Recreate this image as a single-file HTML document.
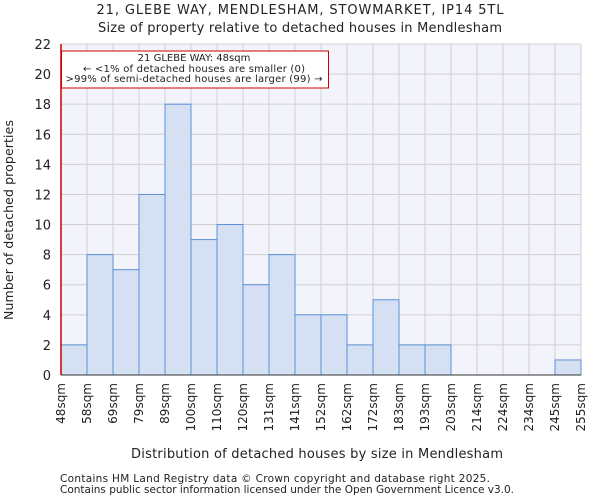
<!DOCTYPE html>
<html><head><meta charset="utf-8"><style>
body{margin:0;background:#fff;font-family:"DejaVu Sans","Liberation Sans",sans-serif}
svg text{font-family:"DejaVu Sans","Liberation Sans",sans-serif;fill:#222}
</style></head><body>
<svg id="c" width="600" height="500" xmlns="http://www.w3.org/2000/svg">
<text x="300" y="14" font-size="13" text-anchor="middle" textLength="407">21, GLEBE WAY, MENDLESHAM, STOWMARKET, IP14 5TL</text>
<text x="300" y="32" font-size="13" text-anchor="middle" textLength="404">Size of property relative to detached houses in Mendlesham</text>
<rect x="61" y="44" width="520" height="331" fill="#f3f4fb"/>
<g id="grid"></g><g id="bars"></g><g id="axes"></g>
<line x1="61" y1="44" x2="61" y2="375" stroke="#c00" stroke-width="1.5"/>
<rect x="61.5" y="51" width="267" height="37" fill="#fff" stroke="#c00"/>
<text x="194" y="61" font-size="10" text-anchor="middle">21 GLEBE WAY: 48sqm</text>
<text x="194" y="72" font-size="10" text-anchor="middle" textLength="222">← &lt;1% of detached houses are smaller (0)</text>
<text x="194" y="82" font-size="10" text-anchor="middle" textLength="257">&gt;99% of semi-detached houses are larger (99) →</text>
<text x="317" y="458" font-size="13" text-anchor="middle" textLength="372">Distribution of detached houses by size in Mendlesham</text>
<text transform="translate(13,220) rotate(-90)" font-size="12.5" text-anchor="middle" textLength="200">Number of detached properties</text>
<text x="60" y="482" font-size="10.5" textLength="430">Contains HM Land Registry data © Crown copyright and database right 2025.</text>
<text x="60" y="493" font-size="10.5" textLength="454">Contains public sector information licensed under the Open Government Licence v3.0.</text>
</svg>
<script>
const categories=["48sqm","58sqm","69sqm","79sqm","89sqm","100sqm","110sqm","120sqm","131sqm","141sqm","152sqm","162sqm","172sqm","183sqm","193sqm","203sqm","214sqm","224sqm","234sqm","245sqm","255sqm"];
const counts=[2,8,7,12,18,9,10,6,8,4,4,2,5,2,2,0,0,0,0,1];
const yTicks=[0,2,4,6,8,10,12,14,16,18,20,22];
const X0=61,X1=581,Y0=375,Y1=44,YMAX=22;
const nb=counts.length;
const xs=i=>X0+(X1-X0)*i/nb;
const ys=v=>Y0-(Y0-Y1)*v/YMAX;
const NS="http://www.w3.org/2000/svg";
const g=document.getElementById('grid'),b=document.getElementById('bars'),a=document.getElementById('axes');
function mk(p,t,at){const e=document.createElementNS(NS,t);for(const k in at)e.setAttribute(k,at[k]);p.appendChild(e);return e;}
yTicks.forEach(v=>{
 const l=mk(g,'line',{x1:X0,x2:X1,y1:ys(v),y2:ys(v),stroke:'#d0d0d0'});
 
 
 const t=mk(a,'text',{x:X0-10,y:ys(v)+5,'font-size':13,'text-anchor':'end'});t.textContent=v;
 
 
});
categories.forEach((c,i)=>{
 const x=xs(i);
 const l=mk(g,'line',{x1:x,x2:x,y1:Y1,y2:Y0,stroke:'#d0d0d0'});
 
 
 const t=mk(a,'text',{x:0,y:0,'font-size':12,'text-anchor':'end',transform:`translate(${x+4},${Y0+8}) rotate(-90)`});t.textContent=c;
 
 
});
counts.forEach((v,i)=>{
 if(v<=0)return;
 const r=mk(b,'rect',{x:xs(i),y:ys(v),width:xs(i+1)-xs(i),height:Y0-ys(v),fill:'#d6e0f3',stroke:'#5b8fd8','stroke-width':1});
 
 
});
const ax=mk(a,'line',{x1:X0,x2:X1,y1:Y0,y2:Y0,stroke:'#333'});


</script>
</body></html>
